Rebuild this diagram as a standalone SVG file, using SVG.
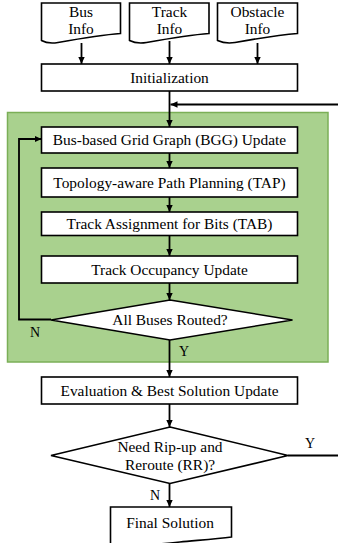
<svg xmlns="http://www.w3.org/2000/svg" width="338" height="543" viewBox="0 0 338 543">
<defs>
<marker id="ah" markerWidth="8" markerHeight="8" refX="7" refY="4" orient="auto" markerUnits="userSpaceOnUse">
<path d="M0,0.8 L7,4 L0,7.2 Z" fill="#000"/>
</marker>
<style>
.box{fill:#fff;stroke:#000;stroke-width:1.6}
text{font-family:'Liberation Serif','Times New Roman',serif;fill:#000;text-anchor:middle}
.t{font-size:15.4px}
.l{font-size:14px}
.c{fill:none;stroke:#000;stroke-width:1.8}
</style>
</defs>
<rect id="region" x="7.5" y="112.5" width="320.5" height="249.5" fill="#A9D18E" stroke="#7BAF57" stroke-width="1.5"/>
<g id="bus-info">
<path class="box" d="M41.5,3 H120.5 V33.5 C100,35 72,40 58,42.5 C50,43.8 45,42.5 41.5,40.5 Z"/>
<text class="t" x="81" y="17">Bus</text>
<text class="t" x="81" y="34">Info</text>
</g>
<g id="track-info">
<path class="box" d="M129.5,3 H209 V33.5 C188.5,35 160.5,40 146.5,42.5 C138.5,43.8 133.5,42.5 129.5,40.5 Z"/>
<text class="t" x="169.5" y="17">Track</text>
<text class="t" x="169.5" y="34">Info</text>
</g>
<g id="obstacle-info">
<path class="box" d="M217.5,3 H297.5 V33.5 C277,35 249,40 235,42.5 C227,43.8 222,42.5 217.5,40.5 Z"/>
<text class="t" x="257.5" y="17">Obstacle</text>
<text class="t" x="257.5" y="34">Info</text>
</g>
<g id="init">
<rect class="box" x="41.5" y="64" width="256" height="27"/>
<text class="t" x="169.5" y="82.5">Initialization</text>
</g>
<g id="bgg">
<rect class="box" x="41.5" y="127" width="256" height="26"/>
<text class="t" x="169.5" y="145">Bus-based Grid Graph (BGG) Update</text>
</g>
<g id="tap">
<rect class="box" x="41.5" y="168" width="256" height="29"/>
<text class="t" x="169.5" y="187.5">Topology-aware Path Planning (TAP)</text>
</g>
<g id="tab">
<rect class="box" x="41.5" y="212" width="256" height="23.5"/>
<text class="t" x="169.5" y="228.5">Track Assignment for Bits (TAB)</text>
</g>
<g id="occupancy">
<rect class="box" x="41.5" y="256" width="256" height="27"/>
<text class="t" x="169.5" y="274.5">Track Occupancy Update</text>
</g>
<g id="all-routed">
<path class="box" d="M170,300 L292.5,320 L170,340 L51,320 Z"/>
<text class="t" x="170" y="325">All Buses Routed?</text>
</g>
<g id="evaluation">
<rect class="box" x="41.5" y="377" width="256" height="27"/>
<text class="t" x="169.5" y="395.5">Evaluation &amp; Best Solution Update</text>
</g>
<g id="need-rr">
<path class="box" d="M170,427 L288,455.5 L170,483.5 L51,455.5 Z"/>
<text class="t" x="170" y="452">Need Rip-up and</text>
<text class="t" x="170" y="470">Reroute (RR)?</text>
</g>
<g id="final">
<path class="box" d="M110.5,507 H231.5 V537 C215,539 195,540.5 180,542 C160,544 130,547 110.5,548 Z"/>
<text class="t" x="170" y="528">Final Solution</text>
</g>
<g id="connectors">
<line class="c" x1="81.5" y1="43" x2="81.5" y2="64" marker-end="url(#ah)"/>
<line class="c" x1="169.5" y1="41" x2="169.5" y2="64" marker-end="url(#ah)"/>
<line class="c" x1="257.5" y1="43" x2="257.5" y2="64" marker-end="url(#ah)"/>
<line class="c" x1="169.5" y1="91" x2="169.5" y2="127" marker-end="url(#ah)"/>
<line class="c" x1="338" y1="104.5" x2="170.5" y2="104.5" marker-end="url(#ah)"/>
<line class="c" x1="169.5" y1="153" x2="169.5" y2="168" marker-end="url(#ah)"/>
<line class="c" x1="169.5" y1="197" x2="169.5" y2="212" marker-end="url(#ah)"/>
<line class="c" x1="169.5" y1="235.5" x2="169.5" y2="256" marker-end="url(#ah)"/>
<line class="c" x1="169.5" y1="283" x2="169.5" y2="300" marker-end="url(#ah)"/>
<polyline class="c" points="51,319.5 19,319.5 19,139 41.5,139" marker-end="url(#ah)"/>
<line class="c" x1="169.5" y1="340" x2="169.5" y2="377" marker-end="url(#ah)"/>
<line class="c" x1="169.5" y1="404" x2="169.5" y2="427" marker-end="url(#ah)"/>
<line class="c" x1="288" y1="455.5" x2="338" y2="455.5"/>
<line class="c" x1="169.5" y1="483.5" x2="169.5" y2="507" marker-end="url(#ah)"/>
<text class="l" x="35" y="337">N</text>
<text class="l" x="184" y="356">Y</text>
<text class="l" x="310" y="448">Y</text>
<text class="l" x="155" y="500">N</text>
</g>
</svg>
